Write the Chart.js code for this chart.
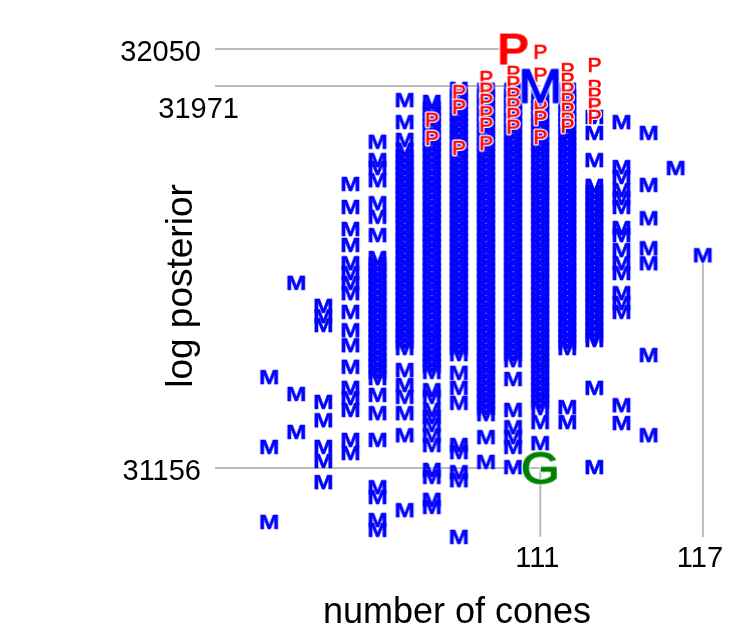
<!DOCTYPE html>
<html>
<head>
<meta charset="utf-8">
<script src="https://cdn.jsdelivr.net/npm/chart.js@4.4.1/dist/chart.umd.min.js"></script>
<style>
  html, body { margin: 0; padding: 0; background: #ffffff; }
  #c { display: block; }
</style>
</head>
<body>
<canvas id="c" width="735" height="623"></canvas>
<script>
// ---------------- data ----------------
const cones = [101, 102, 103, 104, 105, 106, 107, 108, 109, 110, 111, 112, 113, 114, 115, 116, 117];

// "M" samples: log posterior values per number of cones
const m101 = [31350, 31201, 31041];
const m102 = [31551, 31314, 31233];
const m103 = [31502, 31480, 31461, 31297, 31258, 31201, 31171, 31126];
const m104 = [31762, 31713, 31666, 31632, 31593, 31572, 31551, 31529, 31489, 31450, 31418, 31372, 31327, 31305, 31280, 31216, 31188];
const m105 = [31852, 31813, 31796, 31770, 31721, 31692, 31653, 31604, 31591, 31578, 31566, 31553, 31540, 31527, 31514, 31502, 31489, 31476, 31463, 31450, 31438, 31425, 31412, 31399, 31386, 31374, 31361, 31348, 31312, 31273, 31216, 31115, 31094, 31045, 31024];
const m106 = [31941, 31894, 31856, 31835, 31822, 31809, 31796, 31783, 31770, 31758, 31745, 31732, 31719, 31706, 31694, 31681, 31668, 31655, 31642, 31630, 31617, 31604, 31591, 31578, 31566, 31553, 31540, 31527, 31514, 31502, 31489, 31476, 31463, 31450, 31438, 31425, 31412, 31365, 31333, 31308, 31273, 31226, 31066];
const m107 = [31937, 31924, 31911, 31899, 31886, 31873, 31860, 31847, 31835, 31822, 31809, 31796, 31783, 31770, 31758, 31745, 31732, 31719, 31706, 31694, 31681, 31668, 31655, 31642, 31630, 31617, 31604, 31591, 31578, 31566, 31553, 31540, 31527, 31514, 31502, 31489, 31476, 31463, 31450, 31438, 31425, 31412, 31399, 31386, 31374, 31361, 31322, 31308, 31280, 31265, 31248, 31226, 31205, 31152, 31137, 31088, 31073];
const m108 = [31965, 31950, 31937, 31924, 31911, 31899, 31886, 31873, 31860, 31847, 31835, 31822, 31809, 31796, 31783, 31770, 31758, 31745, 31732, 31719, 31706, 31694, 31681, 31668, 31655, 31642, 31630, 31617, 31604, 31591, 31578, 31566, 31553, 31540, 31527, 31514, 31502, 31489, 31476, 31463, 31450, 31438, 31425, 31412, 31399, 31359, 31327, 31295, 31205, 31190, 31147, 31130, 31009];
const m109 = [31963, 31950, 31937, 31924, 31911, 31899, 31886, 31873, 31860, 31847, 31835, 31822, 31809, 31796, 31783, 31770, 31758, 31745, 31732, 31719, 31706, 31694, 31681, 31668, 31655, 31642, 31630, 31617, 31604, 31591, 31578, 31566, 31553, 31540, 31527, 31514, 31502, 31489, 31476, 31463, 31450, 31438, 31425, 31412, 31399, 31386, 31374, 31361, 31348, 31335, 31322, 31310, 31297, 31284, 31271, 31222, 31169];
const m110 = [31963, 31950, 31937, 31924, 31911, 31899, 31886, 31873, 31860, 31847, 31835, 31822, 31809, 31796, 31783, 31770, 31758, 31745, 31732, 31719, 31706, 31694, 31681, 31668, 31655, 31642, 31630, 31617, 31604, 31591, 31578, 31566, 31553, 31540, 31527, 31514, 31502, 31489, 31476, 31463, 31450, 31438, 31425, 31412, 31399, 31386, 31346, 31280, 31243, 31222, 31201, 31158];
const m111 = [31950, 31937, 31924, 31911, 31899, 31886, 31873, 31860, 31847, 31835, 31822, 31809, 31796, 31783, 31770, 31758, 31745, 31732, 31719, 31706, 31694, 31681, 31668, 31655, 31642, 31630, 31617, 31604, 31591, 31578, 31566, 31553, 31540, 31527, 31514, 31502, 31489, 31476, 31463, 31450, 31438, 31425, 31412, 31399, 31386, 31374, 31361, 31348, 31335, 31322, 31310, 31297, 31284, 31254, 31209];
const m112 = [31963, 31950, 31937, 31924, 31911, 31899, 31886, 31873, 31860, 31847, 31835, 31822, 31809, 31796, 31783, 31770, 31758, 31745, 31732, 31719, 31706, 31694, 31681, 31668, 31655, 31642, 31630, 31617, 31604, 31591, 31578, 31566, 31553, 31540, 31527, 31514, 31502, 31489, 31476, 31463, 31450, 31438, 31425, 31412, 31286, 31254];
const m113 = [31905, 31871, 31813, 31758, 31745, 31732, 31719, 31706, 31694, 31681, 31668, 31655, 31642, 31630, 31617, 31604, 31591, 31578, 31566, 31553, 31540, 31527, 31514, 31502, 31489, 31476, 31463, 31450, 31438, 31429, 31327, 31158];
const m114 = [31894, 31798, 31777, 31749, 31732, 31713, 31668, 31653, 31621, 31593, 31572, 31529, 31508, 31489, 31290, 31252];
const m115 = [31871, 31760, 31689, 31625, 31593, 31397, 31226];
const m116 = [31796];
const m117 = [31610];

// "P" values per number of cones
const pCones = [107, 108, 109, 110, 111, 112, 113];
const p107 = [31899, 31860];
const p108 = [31958, 31926, 31839];
const p109 = [31988, 31963, 31939, 31913, 31888, 31849];
const p110 = [31999, 31977, 31952, 31930, 31909, 31884];
const p111 = [32044, 31995, 31926, 31903, 31862];
const p112 = [32005, 31984, 31963, 31941, 31920, 31899, 31886];
const p113 = [32016, 31969, 31952, 31930, 31905];

// highlighted points: best P, best M, ground truth G
const bestP = [110, 32050];
const bestM = [111, 31971];
const truthG = [111, 31156];

// axis ticks (range-frame style)
const yTicks = [32050, 31971, 31156];
const xTicks = [111, 117];
const xTitle = 'number of cones';
const yTitle = 'log posterior';

// ---------------- build ----------------
const mCols = [m101, m102, m103, m104, m105, m106, m107, m108, m109, m110, m111, m112, m113, m114, m115, m116, m117];
const pCols = [p107, p108, p109, p110, p111, p112, p113];
const mData = [];
cones.forEach((c, i) => mCols[i].forEach(v => mData.push({ x: c, y: v })));
const pData = [];
pCones.forEach((c, i) => pCols[i].forEach(v => pData.push({ x: c, y: v })));

const FONT = '"Liberation Sans", Arial, Helvetica, sans-serif';

function glyph(ch, weight, size, color, stretch, halo, thick) {
  const c = document.createElement('canvas');
  let ctx = c.getContext('2d');
  const font = weight + ' ' + size + 'px ' + FONT;
  ctx.font = font;
  const m = ctx.measureText(ch);
  const asc = m.actualBoundingBoxAscent, desc = m.actualBoundingBoxDescent;
  const pad = 4;
  const w = Math.ceil(m.width * stretch) + 2 * pad;
  const h = Math.ceil(asc + desc) + 2 * pad;
  c.width = w; c.height = h;
  ctx = c.getContext('2d');
  ctx.font = font;
  ctx.textAlign = 'center';
  ctx.textBaseline = 'alphabetic';
  ctx.translate(w / 2, pad + asc);
  ctx.scale(stretch, 1);
  ctx.lineJoin = 'round';
  if (halo > 0) {
    ctx.lineWidth = halo + thick;
    ctx.strokeStyle = '#ffffff';
    ctx.strokeText(ch, 0, 0);
  }
  if (thick > 0) {
    ctx.lineWidth = thick;
    ctx.strokeStyle = color;
    ctx.strokeText(ch, 0, 0);
  }
  ctx.fillStyle = color;
  ctx.fillText(ch, 0, 0);
  return c;
}

const gM = glyph('M', 'bold', 20, '#0000ff', 1.22, 0, 0.5);
const gP = glyph('P', 'normal', 20, '#ff0000', 1.05, 2.5, 0.7);
const gBigP = glyph('P', 'bold', 44, '#ff0000', 1.1, 2, 0);
const gBigM = glyph('M', 'normal', 48, '#0000ff', 1.1, 2, 1.4);
const gG = glyph('G', 'normal', 45, '#008000', 1.1, 2, 1.5);

const frame = {
  id: 'frame',
  beforeDatasetsDraw(chart) {
    const ctx = chart.ctx, xs = chart.scales.x, ys = chart.scales.y;
    const x0 = xs.getPixelForValue(99);
    const yBottom = ys.getPixelForValue(Math.min(...mData.map(d => d.y)));
    ctx.save();
    ctx.strokeStyle = '#bbbbbb';
    ctx.lineWidth = 2;
    const hTargets = [bestP, bestM, truthG];
    yTicks.forEach((v, i) => {
      const y = ys.getPixelForValue(v);
      ctx.beginPath();
      ctx.moveTo(x0, y);
      ctx.lineTo(xs.getPixelForValue(hTargets[i][0]), y);
      ctx.stroke();
    });
    const vTargets = [truthG, [117, m117[0]]];
    xTicks.forEach((v, i) => {
      const x = xs.getPixelForValue(v);
      ctx.beginPath();
      ctx.moveTo(x, ys.getPixelForValue(vTargets[i][1]));
      ctx.lineTo(x, yBottom);
      ctx.stroke();
    });
    ctx.restore();
  },
  afterDraw(chart) {
    const ctx = chart.ctx, xs = chart.scales.x, ys = chart.scales.y;
    ctx.save();
    ctx.fillStyle = '#000000';
    ctx.font = '29px ' + FONT;
    ctx.textBaseline = 'alphabetic';
    ctx.textAlign = 'right';
    let prev = null;
    yTicks.forEach(v => {
      const y = ys.getPixelForValue(v);
      if (prev !== null && Math.abs(y - prev) < 45) {
        ctx.fillText(String(v), 239, y + 32);
      } else {
        ctx.fillText(String(v), 201, y + 11.5);
      }
      prev = y;
    });
    ctx.textAlign = 'center';
    xTicks.forEach(v => {
      ctx.fillText(String(v), xs.getPixelForValue(v) - 3, 567);
    });
    ctx.font = '36px ' + FONT;
    ctx.fillText(xTitle, 457, 623);
    ctx.font = '37px ' + FONT;
    ctx.translate(192, 286);
    ctx.rotate(-Math.PI / 2);
    ctx.fillText(yTitle, 0, 0);
    ctx.restore();
  }
};

new Chart(document.getElementById('c'), {
  type: 'scatter',
  data: {
    datasets: [
      { label: 'G', data: [{ x: truthG[0], y: truthG[1] }], pointStyle: gG, pointRadius: 4, order: 1, clip: false },
      { label: 'bestM', data: [{ x: bestM[0], y: bestM[1] }], pointStyle: gBigM, pointRadius: 4, order: 2, clip: false },
      { label: 'bestP', data: [{ x: bestP[0], y: bestP[1] }], pointStyle: gBigP, pointRadius: 4, order: 3, clip: false },
      { label: 'P', data: pData, pointStyle: gP, pointRadius: 4, order: 4, clip: false },
      { label: 'M', data: mData, pointStyle: gM, pointRadius: 4, order: 5, clip: false }
    ]
  },
  options: {
    responsive: false,
    animation: false,
    events: [],
    layout: { padding: { left: 242.17, right: 3.83, top: 25.57, bottom: 58.45 } },
    plugins: { legend: { display: false }, tooltip: { enabled: false } },
    scales: {
      x: { type: 'linear', min: 100, max: 118, display: false },
      y: { type: 'linear', min: 30950, max: 32100, display: false }
    }
  },
  plugins: [frame]
});
</script>
</body>
</html>
